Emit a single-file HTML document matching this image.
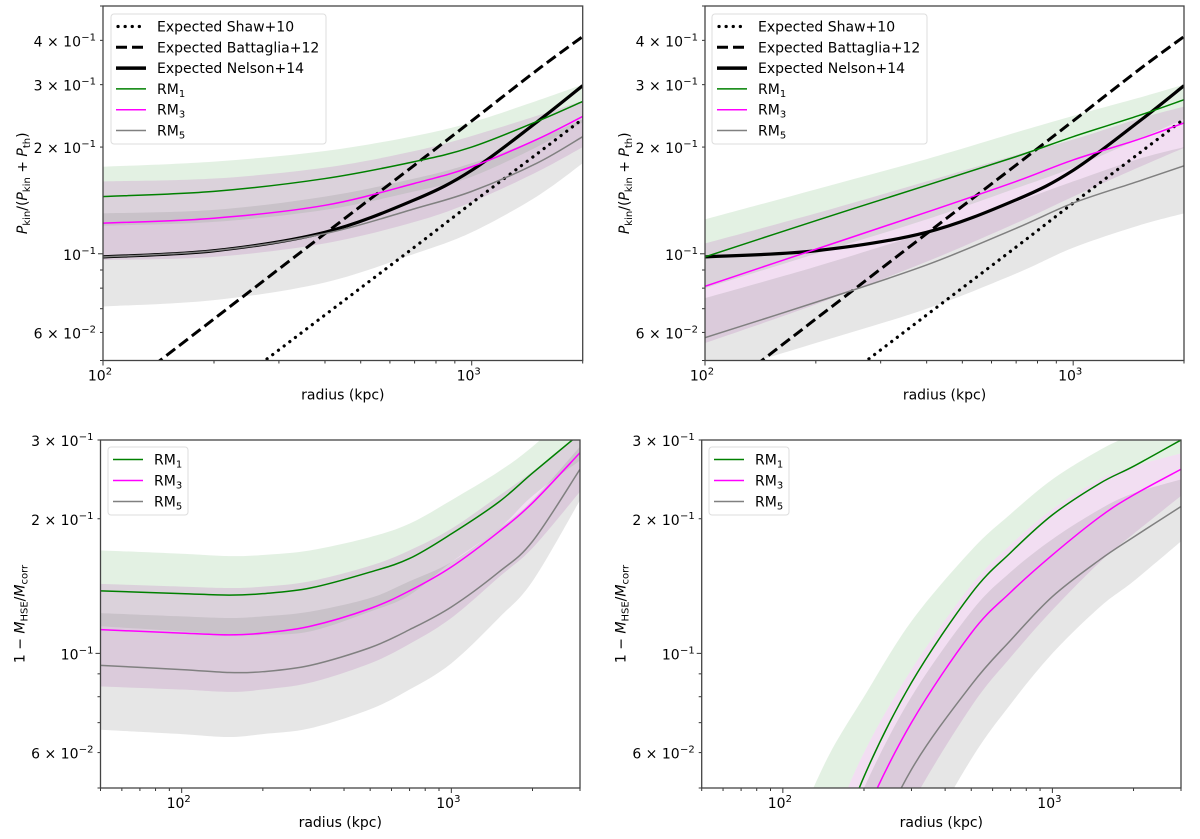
<!DOCTYPE html>
<html><head><meta charset="utf-8"><style>
html,body{margin:0;padding:0;background:#fff;overflow:hidden;width:1200px;height:839px}
svg{display:block;font-family:"DejaVu Sans","Liberation Sans",sans-serif}
</style></head><body>
<svg id="fig" width="1200" height="839" viewBox="0 0 1200 839" xmlns="http://www.w3.org/2000/svg"></svg>
<script>
// ---- data: top panels (Pkin fraction) ----
const rTop = [100, 200, 400, 700, 1000, 1500, 2000];
const tlRM1 = [0.145, 0.150, 0.163, 0.182, 0.200, 0.236, 0.269];
const tlRM1Hi = [0.176, 0.182, 0.195, 0.215, 0.235, 0.27, 0.30];
const tlRM1Lo = [0.12, 0.123, 0.133, 0.15, 0.165, 0.2, 0.235];
const tlRM3 = [0.122, 0.126, 0.137, 0.158, 0.176, 0.21, 0.244];
const tlRM3Hi = [0.16, 0.163, 0.175, 0.195, 0.215, 0.245, 0.27];
const tlRM3Lo = [0.096, 0.098, 0.107, 0.123, 0.14, 0.17, 0.2];
const tlRM5 = [0.098, 0.102, 0.114, 0.134, 0.150, 0.18, 0.214];
const tlRM5Hi = [0.13, 0.133, 0.145, 0.163, 0.18, 0.21, 0.24];
const tlRM5Lo = [0.071, 0.074, 0.083, 0.1, 0.115, 0.145, 0.18];
const trRM1 = [0.098, 0.124, 0.156, 0.188, 0.214, 0.245, 0.272];
const trRM1Hi = [0.125, 0.152, 0.185, 0.22, 0.245, 0.275, 0.30];
const trRM1Lo = [0.08, 0.1, 0.125, 0.153, 0.175, 0.21, 0.24];
const trRM3 = [0.081, 0.103, 0.131, 0.160, 0.184, 0.21, 0.234];
const trRM3Hi = [0.107, 0.13, 0.16, 0.19, 0.21, 0.24, 0.26];
const trRM3Lo = [0.056, 0.072, 0.095, 0.122, 0.145, 0.175, 0.199];
const trRM5 = [0.058, 0.073, 0.093, 0.118, 0.139, 0.16, 0.177];
const trRM5Hi = [0.075, 0.092, 0.115, 0.14, 0.16, 0.185, 0.2];
const trRM5Lo = [0.045, 0.056, 0.07, 0.088, 0.104, 0.12, 0.13];
const shaw = [0.0225, 0.0389, 0.0672, 0.1045, 0.139, 0.191, 0.24];
const battaglia = [0.0376, 0.0655, 0.114, 0.178, 0.237, 0.329, 0.41];
const nelson = [0.098, 0.102, 0.115, 0.142, 0.172, 0.235, 0.298];
// ---- data: bottom-left (mass bias) ----
const rBL = [50, 100, 150, 200, 300, 500, 700, 1000, 1500, 2000, 3000];
const blRM1 = [0.138, 0.136, 0.135, 0.136, 0.140, 0.152, 0.163, 0.185, 0.218, 0.253, 0.31];
const blRM1Hi = [0.17, 0.167, 0.165, 0.166, 0.17, 0.182, 0.195, 0.22, 0.255, 0.29, 0.36];
const blRM1Lo = [0.115, 0.112, 0.11, 0.11, 0.112, 0.124, 0.135, 0.16, 0.19, 0.225, 0.27];
const blRM3 = [0.113, 0.111, 0.110, 0.111, 0.115, 0.126, 0.138, 0.156, 0.187, 0.217, 0.281];
const blRM3Hi = [0.143, 0.141, 0.14, 0.141, 0.145, 0.157, 0.17, 0.19, 0.225, 0.255, 0.31];
const blRM3Lo = [0.0843, 0.083, 0.082, 0.083, 0.086, 0.095, 0.105, 0.12, 0.148, 0.172, 0.23];
const blRM5 = [0.094, 0.092, 0.0906, 0.091, 0.094, 0.103, 0.113, 0.127, 0.152, 0.178, 0.258];
const blRM5Hi = [0.123, 0.121, 0.12, 0.121, 0.124, 0.133, 0.145, 0.16, 0.19, 0.22, 0.29];
const blRM5Lo = [0.0675, 0.066, 0.065, 0.066, 0.068, 0.075, 0.083, 0.095, 0.12, 0.145, 0.22];
// ---- data: bottom-right ----
const rBR = [120, 150, 200, 300, 500, 700, 1000, 1500, 2000, 3000];
const brRM1 = [0.022, 0.033, 0.053, 0.086, 0.136, 0.168, 0.204, 0.240, 0.262, 0.30];
const brRM1Hi = [0.045, 0.06, 0.08, 0.118, 0.17, 0.205, 0.245, 0.285, 0.31, 0.35];
const brRM1Lo = [0.028, 0.04, 0.06, 0.092, 0.142, 0.175, 0.21, 0.245, 0.262, 0.28];
const brRM3 = [0.018, 0.027, 0.043, 0.07, 0.111, 0.137, 0.166, 0.202, 0.226, 0.258];
const brRM3Hi = [0.028, 0.04, 0.06, 0.092, 0.142, 0.175, 0.21, 0.245, 0.262, 0.28];
const brRM3Lo = [0.012, 0.018, 0.028, 0.046, 0.076, 0.098, 0.125, 0.16, 0.185, 0.225];
const brRM5 = [0.014, 0.021, 0.033, 0.055, 0.085, 0.107, 0.134, 0.162, 0.182, 0.213];
const brRM5Hi = [0.022, 0.032, 0.05, 0.08, 0.124, 0.152, 0.18, 0.21, 0.228, 0.245];
const brRM5Lo = [0.01, 0.015, 0.022, 0.034, 0.058, 0.077, 0.1, 0.127, 0.145, 0.178];
const legendTopLabels = ["Expected Shaw+10", "Expected Battaglia+12", "Expected Nelson+14"];
const rmLabels = ["1", "3", "5"];

const NS = "http://www.w3.org/2000/svg";
const fig = document.getElementById('fig');
function mk(tag, attrs, parent) {
  const e = document.createElementNS(NS, tag);
  for (const k in attrs) e.setAttribute(k, attrs[k]);
  (parent || fig).appendChild(e);
  return e;
}
const L = Math.log10;
function makeAxes(p) {
  p.sx = r => p.x0 + (p.x1 - p.x0) * (L(r) - L(p.xmin)) / (L(p.xmax) - L(p.xmin));
  p.sy = v => p.y1 - (p.y1 - p.y0) * (L(v) - L(p.ymin)) / (L(p.ymax) - L(p.ymin));
  const g = mk('g', {});
  
  
  const cp = mk('clipPath', {id: 'clip-' + p.name}, g);
  mk('rect', {x: p.x0, y: p.y0, width: p.x1 - p.x0, height: p.y1 - p.y0}, cp);
  p.g = g;
  p.plot = mk('g', {'clip-path': 'url(#clip-' + p.name + ')'}, g);
  
  
  return p;
}
// smooth Catmull-Rom path through screen points
function smooth(pts, start) {
  let d = (start ? 'M' : 'L') + pts[0][0].toFixed(2) + ',' + pts[0][1].toFixed(2);
  for (let i = 0; i < pts.length - 1; i++) {
    const p0 = pts[Math.max(0, i - 1)], p1 = pts[i], p2 = pts[i + 1], p3 = pts[Math.min(pts.length - 1, i + 2)];
    const c1 = [p1[0] + (p2[0] - p0[0]) / 6, p1[1] + (p2[1] - p0[1]) / 6];
    const c2 = [p2[0] - (p3[0] - p1[0]) / 6, p2[1] - (p3[1] - p1[1]) / 6];
    d += 'C' + c1[0].toFixed(2) + ',' + c1[1].toFixed(2) + ' ' + c2[0].toFixed(2) + ',' + c2[1].toFixed(2) + ' ' + p2[0].toFixed(2) + ',' + p2[1].toFixed(2);
  }
  return d;
}
function pts(p, rs, vs) { return rs.map((r, i) => [p.sx(r), p.sy(vs[i])]); }
function band(p, rs, lo, hi, fill, name) {
  const up = pts(p, rs, hi), dn = pts(p, rs, lo).reverse();
  const d = smooth(up, true) + smooth(dn, false) + 'Z';
  const e = mk('path', {d: d, fill: fill, stroke: 'none'}, p.plot);
  
  
}
function line(p, rs, vs, color, w, dash, name) {
  const a = {d: smooth(pts(p, rs, vs), true), fill: 'none', stroke: color, 'stroke-width': w, 'stroke-linejoin': 'round'};
  if (dash) a['stroke-dasharray'] = dash;
  const e = mk('path', a, p.plot);
  
  
}
function frame(p, yLabelParts, yticks) {
  const g = p.g;
  for (let dec = 1; dec <= 4; dec++) for (let m = 1; m < 10; m++) {
    const r = m * Math.pow(10, dec);
    if (r < p.xmin - 1e-9 || r > p.xmax + 1e-9) continue;
    const x = p.sx(r), len = m === 1 ? 5 : 3;
    mk('line', {x1: x, x2: x, y1: p.y1, y2: p.y1 + len, stroke: '#333', 'stroke-width': 1}, g);
    if (m === 1) {
      const t = mk('text', {x: x - 3, y: p.y1 + 20, 'font-size': 14, 'text-anchor': 'middle'}, g);
      
      
      t.appendChild(document.createTextNode('10'));
      const s = mk('tspan', {dy: -6, 'font-size': 10}, t); s.textContent = dec;
    }
  }
  for (let dec = -2; dec <= 0; dec++) for (let m = 1; m < 10; m++) {
    const v = m * Math.pow(10, dec);
    if (v < p.ymin - 1e-9 || v > p.ymax + 1e-9) continue;
    const y = p.sy(v), len = m === 1 ? 5 : 3;
    mk('line', {x1: p.x0 - len, x2: p.x0, y1: y, y2: y, stroke: '#333', 'stroke-width': 1}, g);
  }
  yticks.forEach(t => {
    const y = p.sy(t[0]) + 6;
    const tx = mk('text', {x: p.x0 - 22, y: y, 'font-size': 14, 'text-anchor': 'end'}, g);
    
    
    tx.appendChild(document.createTextNode((t[1] ? t[1] + ' \u00d7 ' : '') + '10'));
    const s = mk('tspan', {x: p.x0 - 7, dy: -6, 'font-size': 10, 'text-anchor': 'end'}, tx); s.textContent = t[2];
  });
  mk('rect', {x: p.x0, y: p.y0, width: p.x1 - p.x0, height: p.y1 - p.y0, fill: 'none', stroke: '#444', 'stroke-width': 1.3}, g);
  const xl = mk('text', {x: (p.x0 + p.x1) / 2, y: p.y1 + 39, 'font-size': 14, 'text-anchor': 'middle'}, g);
  
  
  xl.textContent = 'radius (kpc)';
  const cy = (p.y0 + p.y1) / 2, cx = p.x0 - 76;
  const yl = mk('text', {x: cx, y: cy, 'font-size': 14, 'text-anchor': 'middle', transform: 'rotate(-90 ' + cx + ' ' + cy + ')'}, g);
  
  
  yLabelParts.forEach(pt => {
    const s = mk('tspan', pt[1] ? {'font-size': 10, dy: pt[1], 'font-style': 'normal'} : {'font-style': pt[2] ? 'italic' : 'normal', dy: pt[3] || 0}, yl);
    s.textContent = pt[0];
  });
}
function legend(p, x, y, w, h, withExp) {
  const g = mk('g', {});
  
  
  mk('rect', {x: x, y: y, width: w, height: h, rx: 3, fill: '#fff', 'fill-opacity': 0.85, stroke: '#ddd', 'stroke-width': 1}, g);
  let yy = y + 12.5;
  const styles = [];
  if (withExp) {
    styles.push(['#000', 3.2, '0.1,7', legendTopLabels[0], null]);
    styles.push(['#000', 3, '11,5', legendTopLabels[1], null]);
    styles.push(['#000', 3.5, null, legendTopLabels[2], null]);
  }
  styles.push(['#008000', 1.5, null, 'RM', rmLabels[0]]);
  styles.push(['#ff00ff', 1.5, null, 'RM', rmLabels[1]]);
  styles.push(['#808080', 1.5, null, 'RM', rmLabels[2]]);
  styles.forEach(s => {
    const e = mk('g', {}, g);
    
    
    const a = {x1: x + 5, x2: x + 35, y1: yy, y2: yy, stroke: s[0], 'stroke-width': s[1]};
    if (s[2]) a['stroke-dasharray'] = s[2];
    if (s[2] === '0.1,7') { a['stroke-linecap'] = 'round'; a.x1 = x + 7; }
    mk('line', a, e);
    const t = mk('text', {x: x + 46, y: yy + 5, 'font-size': 14}, e);
    t.appendChild(document.createTextNode(s[3]));
    if (s[4]) { const sb = mk('tspan', {dy: 3, 'font-size': 10}, t); sb.textContent = s[4]; }
    yy += withExp ? 20.8 : 21;
  });
}
const GREEN = 'rgba(0,128,0,0.11)', PINK = 'rgba(190,90,190,0.2)', GRAY = 'rgba(128,128,128,0.2)';
const yTopLabel = [['P', 0, true], ['kin', 3], ['/(', 0, false, -3], ['P', 0, true], ['kin', 3], [' + ', 0, false, -3], ['P', 0, true], ['th', 3], [')', 0, false, -3]];
const yBotLabel = [['1 \u2212 ', 0, false], ['M', 0, true], ['HSE', 3], ['/', 0, false, -3], ['M', 0, true], ['corr', 3]];
const topTicks = [[0.1, null, '\u22121'], [0.06, '6', '\u22122'], [0.2, '2', '\u22121'], [0.3, '3', '\u22121'], [0.4, '4', '\u22121']];
const botTicks = [[0.1, null, '\u22121'], [0.06, '6', '\u22122'], [0.2, '2', '\u22121'], [0.3, '3', '\u22121']];

function topPanel(name, x0, x1, d) {
  const p = makeAxes({name: name, x0: x0, x1: x1, y0: 6, y1: 360.5, xmin: 100, xmax: 2000, ymin: 0.05, ymax: 0.5});
  band(p, rTop, d[1], d[2], GREEN, 'band-rm1');
  band(p, rTop, d[4], d[5], PINK, 'band-rm3');
  band(p, rTop, d[7], d[8], GRAY, 'band-rm5');
  line(p, rTop, shaw, '#000', 3.2, '0.1,7', 'line-shaw10');
  p.plot.lastChild.setAttribute('stroke-linecap', 'round');
  line(p, rTop, battaglia, '#000', 3, '11,5', 'line-battaglia12');
  line(p, rTop, nelson, '#000', 3.2, null, 'line-nelson14');
  line(p, rTop, d[0], '#008000', 1.5, null, 'line-rm1');
  line(p, rTop, d[3], '#ff00ff', 1.5, null, 'line-rm3');
  line(p, rTop, d[6], '#808080', 1.5, null, 'line-rm5');
  frame(p, yTopLabel, topTicks);
  return p;
}
const tl = topPanel('panel-top-left', 103, 582.7, [tlRM1, tlRM1Lo, tlRM1Hi, tlRM3, tlRM3Lo, tlRM3Hi, tlRM5, tlRM5Lo, tlRM5Hi]);
legend(tl, 111, 14, 215, 130, true);
const tr = topPanel('panel-top-right', 705, 1184, [trRM1, trRM1Lo, trRM1Hi, trRM3, trRM3Lo, trRM3Hi, trRM5, trRM5Lo, trRM5Hi]);
legend(tr, 712, 14, 215, 130, true);

function botPanel(name, x0, x1, rs, d) {
  const p = makeAxes({name: name, x0: x0, x1: x1, y0: 440, y1: 788, xmin: 50, xmax: 3000, ymin: 0.05, ymax: 0.3});
  band(p, rs, d[1], d[2], GREEN, 'band-rm1');
  band(p, rs, d[4], d[5], PINK, 'band-rm3');
  band(p, rs, d[7], d[8], GRAY, 'band-rm5');
  line(p, rs, d[0], '#008000', 1.5, null, 'line-rm1');
  line(p, rs, d[3], '#ff00ff', 1.5, null, 'line-rm3');
  line(p, rs, d[6], '#808080', 1.5, null, 'line-rm5');
  frame(p, yBotLabel, botTicks);
  return p;
}
const bl = botPanel('panel-bottom-left', 100.5, 580, rBL, [blRM1, blRM1Lo, blRM1Hi, blRM3, blRM3Lo, blRM3Hi, blRM5, blRM5Lo, blRM5Hi]);
legend(bl, 108, 447, 80, 68, false);
const br = botPanel('panel-bottom-right', 701.7, 1181, rBR, [brRM1, brRM1Lo, brRM1Hi, brRM3, brRM3Lo, brRM3Hi, brRM5, brRM5Lo, brRM5Hi]);
legend(br, 709, 447, 80, 68, false);
</script>
</body></html>
